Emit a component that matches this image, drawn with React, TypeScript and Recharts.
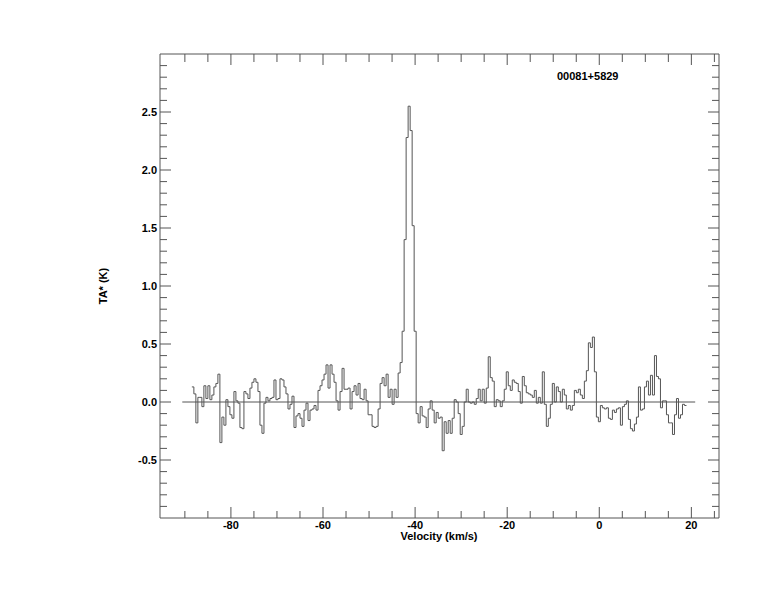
import { LineChart, Line, XAxis, YAxis, ReferenceLine } from 'recharts';

// spectrum channels: left edge of first channel and channel width (km/s)
const VELOCITY_START = -88.48;
const CHANNEL_WIDTH = 0.4349;

// antenna temperature per channel (K)
const TA_VALUES = [
  0.13, 0.07, -0.18, 0.04, 0.04, -0.04, 0.14, 0.03, 0.14, 0.02,
  0.06, 0.13, 0.16, 0.24, -0.35, -0.13, -0.2, 0.02, -0.04, -0.11,
  -0.14, 0.09, 0.01, -0.01, -0.22, -0.23, 0.09, 0.07, 0.03, 0.12,
  0.17, 0.2, 0.17, 0.09, -0.2, -0.27, -0.01, 0.04, 0.01, 0.03,
  0.04, 0.19, 0.02, 0.03, 0.2, 0.19, 0.13, 0.07, -0.06, -0.02,
  0.05, -0.22, -0.12, -0.1, -0.14, -0.21, -0.07, -0.01, -0.16, -0.07,
  -0.06, -0.03, -0.07, 0.1, 0.14, 0.19, 0.24, 0.32, 0.12, 0.32,
  0.24, 0.17, 0.01, -0.07, 0.09, 0.29, 0.11, 0.11, 0.12, -0.06,
  0.09, 0.14, 0.06, 0.16, 0.03, 0.02, 0.11, 0.01, -0.11, -0.11,
  -0.21, -0.22, -0.21, -0.06, 0.16, 0.21, 0.14, 0.24, 0.04, 0.11,
  -0.02, 0.11, 0.04, 0.25, 0.34, 0.61, 1.4, 2.28, 2.55, 2.34,
  1.52, 0.61, -0.1, -0.18, -0.04, -0.12, -0.13, -0.22, -0.06, 0.01,
  -0.07, -0.18, -0.09, -0.14, -0.13, -0.42, -0.17, -0.27, -0.16, -0.27,
  -0.14, 0.02, 0.0, -0.1, -0.28, -0.21, 0.0, 0.11, 0.0, -0.01,
  0.0, -0.02, 0.03, 0.11, 0.01, 0.11, -0.01, 0.12, 0.39, 0.21,
  0.18, -0.04, 0.02, 0.01, -0.04, 0.01, 0.11, 0.26, 0.14, 0.1,
  0.19, 0.17,
  0.16, 0.09, -0.01, 0.22, 0.14, 0.08, 0.07, 0.06, 0.04, 0.1,
  -0.01, 0.04, -0.01, 0.26, -0.02, -0.21, -0.14, -0.02, 0.16, 0.0,
  0.13, 0.09, 0.0, 0.11, 0.06, -0.06, -0.03, -0.07, -0.03, 0.1,
  0.08, 0.11, 0.06, 0.03, 0.18, 0.27, 0.51, 0.47, 0.56, 0.26,
  -0.13, -0.17, -0.03, -0.05, -0.06, -0.05, -0.14, -0.15, -0.07, -0.09,
  -0.06, -0.05, -0.2, -0.04, -0.02, 0.01, -0.15, -0.23, -0.25, -0.19,
  -0.13, 0.13, -0.07, -0.06, 0.13, 0.18, 0.06, 0.23, 0.06, 0.4,
  0.22, 0.2, -0.05, 0.01, 0.01, -0.11, -0.18, -0.18, -0.28, -0.11,
  0.03, -0.14, -0.11, -0.02, -0.03,
];

const X_DOMAIN = [-95.4, 26.0];
const Y_DOMAIN = [-1, 3];
const X_MINOR_TICKS = [-90, -85, -80, -75, -70, -65, -60, -55, -50, -45, -40, -35, -30, -25, -20, -15, -10, -5, 0, 5, 10, 15, 20, 25];
const X_LABEL_TICKS = [-80, -60, -40, -20, 0, 20];
const Y_LABEL_TICKS = [-0.5, 0.0, 0.5, 1.0, 1.5, 2.0, 2.5];
const Y_MINOR_TICKS = Array.from({ length: 39 }, (_, i) => Math.round((-0.9 + i * 0.1) * 10) / 10);
const ZERO_LINE = [-90.56, 20.83];

const SOURCE_NAME = '00081+5829';
const X_TITLE = 'Velocity (km/s)';
const Y_TITLE = 'TA* (K)';

const INK = '#555';
const FONT = '"Liberation Sans", Arial, Helvetica, sans-serif';

const data = TA_VALUES.map((ta, i) => ({ v: VELOCITY_START + i * CHANNEL_WIDTH, ta }));
data.push({ v: VELOCITY_START + TA_VALUES.length * CHANNEL_WIDTH, ta: TA_VALUES[TA_VALUES.length - 1] });

// plot frame edges in px (chart margins below)
const PLOT_TOP = 54;
const PLOT_BOTTOM = 518;

const isXMajor = (v: number) => X_LABEL_TICKS.includes(v);
const isYMajor = (v: number) => Math.abs(v * 2 - Math.round(v * 2)) < 1e-6;

// bottom axis tick also draws the matching tick on the top edge
function BottomTick({ x, payload }: any) {
  const major = isXMajor(payload.value);
  const y = PLOT_BOTTOM;
  return (
    <g>
      <line x1={x} x2={x} y1={y} y2={y - (major ? 11 : 7)} stroke={INK} />
      <line x1={x} x2={x} y1={PLOT_TOP} y2={PLOT_TOP + (major ? 11 : 8)} stroke={INK} />
      {major && (
        <text x={x} y={y + 11} textAnchor="middle" fontFamily={FONT} fontWeight="bold" fontSize={11} fill="#000">
          {payload.value}
        </text>
      )}
    </g>
  );
}

function LeftTick({ x, y, payload }: any) {
  const major = isYMajor(payload.value);
  const labelled = Y_LABEL_TICKS.some((t) => Math.abs(t - payload.value) < 1e-6);
  return (
    <g>
      <line x1={x} x2={x + (major ? 11 : 7)} y1={y} y2={y} stroke={INK} />
      {labelled && (
        <text x={x - 3} y={y + 4} textAnchor="end" fontFamily={FONT} fontWeight="bold" fontSize={11} fill="#000">
          {payload.value.toFixed(1)}
        </text>
      )}
    </g>
  );
}

function RightTick({ x, y, payload }: any) {
  const major = isYMajor(payload.value);
  return <line x1={x} x2={x - (major ? 11 : 7)} y1={y} y2={y} stroke={INK} />;
}

const textStyle = {
  position: 'absolute' as const,
  fontFamily: FONT,
  fontWeight: 'bold' as const,
  fontSize: 11,
  color: '#000',
  whiteSpace: 'nowrap' as const,
  lineHeight: '12px',
};

const axisCommon = {
  allowDataOverflow: true,
  interval: 0 as const,
  tickSize: 0,
  tickMargin: 0,
  tickLine: false,
  axisLine: { stroke: INK },
};

export default function App() {
  return (
    <div style={{ position: 'absolute', left: 0, top: 0, width: 774, height: 612, background: '#fff' }}>
      <LineChart width={774} height={612} data={data} margin={{ top: 53, right: 54, bottom: 93, left: 159 }}>
        <XAxis
          {...axisCommon}
          dataKey="v"
          type="number"
          domain={X_DOMAIN}
          ticks={X_MINOR_TICKS}
          height={1}
          tick={(p: any) => <BottomTick {...p} />}
        />
        <XAxis
          {...axisCommon}
          xAxisId="top"
          dataKey="v"
          orientation="top"
          type="number"
          domain={X_DOMAIN}
          ticks={[]}
          height={1}
          tick={false}
        />
        <YAxis
          {...axisCommon}
          type="number"
          domain={Y_DOMAIN}
          ticks={Y_MINOR_TICKS}
          width={1}
          tick={(p: any) => <LeftTick {...p} />}
        />
        <YAxis
          {...axisCommon}
          yAxisId="right"
          orientation="right"
          type="number"
          domain={Y_DOMAIN}
          ticks={Y_MINOR_TICKS}
          width={1}
          tick={(p: any) => <RightTick {...p} />}
        />
        <ReferenceLine
          segment={[{ x: ZERO_LINE[0], y: 0 }, { x: ZERO_LINE[1], y: 0 }]}
          stroke={INK}
          strokeWidth={1}
        />
        <Line
          type="stepAfter"
          dataKey="ta"
          stroke={INK}
          strokeWidth={1}
          dot={false}
          activeDot={false}
          isAnimationActive={false}
        />
      </LineChart>
      <div style={{ ...textStyle, left: 557, top: 70 }}>{SOURCE_NAME}</div>
      <div style={{ ...textStyle, left: 439, top: 536, transform: 'translate(-50%, -50%)' }}>{X_TITLE}</div>
      <div style={{ ...textStyle, left: 103, top: 286, transform: 'translate(-50%, -50%) rotate(-90deg)' }}>{Y_TITLE}</div>
    </div>
  );
}
